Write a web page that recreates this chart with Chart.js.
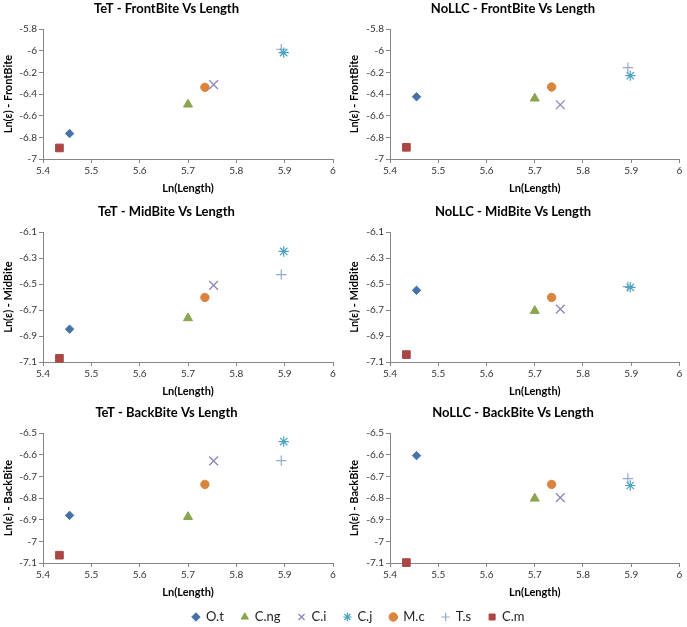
<!DOCTYPE html>
<html>
<head>
<meta charset="utf-8">
<script src="https://cdn.jsdelivr.net/npm/chart.js@4"></script>
<style>
  html, body { margin:0; padding:0; background:#fff; overflow:hidden; }
  #wrap { position:relative; width:687px; height:627px; background:#fff; overflow:hidden; }
  canvas { position:absolute; }
</style>
</head>
<body>
<div id="wrap">
  <canvas id="c1" width="343" height="200" style="left:0;top:0"></canvas>
  <canvas id="c2" width="344" height="200" style="left:343px;top:0"></canvas>
  <canvas id="c3" width="343" height="200" style="left:0;top:203px"></canvas>
  <canvas id="c4" width="344" height="200" style="left:343px;top:203px"></canvas>
  <canvas id="c5" width="343" height="200" style="left:0;top:404px"></canvas>
  <canvas id="c6" width="344" height="200" style="left:343px;top:404px"></canvas>
  <canvas id="cl" width="687" height="110" style="left:0;top:588px"></canvas>
</div>
<script>
// ---- data ----
const seriesNames = ['O.t', 'C.ng', 'C.i', 'C.j', 'M.c', 'T.s', 'C.m'];
const lengthX     = [5.455, 5.700, 5.753, 5.898, 5.735, 5.893, 5.434];

const tetFront   = [-6.765, -6.496, -6.313, -6.017, -6.338, -5.986, -6.898];
const nollcFront = [-6.425, -6.440, -6.499, -6.230, -6.335, -6.156, -6.892];
const tetMid     = [-6.847, -6.762, -6.510, -6.249, -6.603, -6.427, -7.072];
const nollcMid   = [-6.548, -6.706, -6.693, -6.525, -6.603, -6.520, -7.043];
const tetBack    = [-6.880, -6.887, -6.628, -6.539, -6.737, -6.627, -7.064];
const nollcBack  = [-6.604, -6.802, -6.798, -6.742, -6.737, -6.710, -7.098];

const xTicks      = [5.4, 5.5, 5.6, 5.7, 5.8, 5.9, 6];
const yTicksFront = [-7, -6.8, -6.6, -6.4, -6.2, -6, -5.8];
const yTicksMid   = [-7.1, -6.9, -6.7, -6.5, -6.3, -6.1];
const yTicksBack  = [-7.1, -7, -6.9, -6.8, -6.7, -6.6, -6.5];

const panelTitles = [
  'TeT - FrontBite Vs Length', 'NoLLC - FrontBite Vs Length',
  'TeT - MidBite Vs Length', 'NoLLC - MidBite Vs Length',
  'TeT - BackBite Vs Length', 'NoLLC - BackBite Vs Length'
];
const yTitles = ['Ln(\u03b5) - FrontBite', 'Ln(\u03b5) - MidBite', 'Ln(\u03b5) - BackBite'];
const xTitle = 'Ln(Length)';

// ---- styles ----
const markerStyles = [
  { pointStyle: 'rectRot',  color: '#4572A7', radius: 4.2, width: 1, fill: true },
  { pointStyle: 'triangle', color: '#89A54E', radius: 5.2, width: 1, fill: true },
  { pointStyle: 'crossRot', color: '#8F84BA', radius: 6.2, width: 1.3, fill: false },
  { pointStyle: 'star',     color: '#4AA3BF', radius: 5.2, width: 1.2, fill: false },
  { pointStyle: 'circle',   color: '#DB843D', radius: 4.2, width: 1, fill: true },
  { pointStyle: 'cross',    color: '#93A9CF', radius: 5.2, width: 1.2, fill: false },
  { pointStyle: 'rect',     color: '#AA4643', radius: 5.4, width: 1, fill: true }
];

const FONT = 'Lato, "Open Sans", sans-serif';
const AXIS_COLOR = '#868686';

function fmt(v) { return String(Number(v.toFixed(2))); }

function makeDatasets(yVals) {
  return seriesNames.map((name, i) => {
    const s = markerStyles[i];
    return {
      label: name,
      data: yVals ? [{ x: lengthX[i], y: yVals[i] }] : [],
      pointStyle: s.pointStyle,
      pointRadius: s.radius,
      pointBorderWidth: s.width,
      borderColor: s.color,
      borderWidth: s.width,
      backgroundColor: s.fill ? s.color : 'rgba(0,0,0,0)',
      pointBackgroundColor: s.fill ? s.color : 'rgba(0,0,0,0)',
      pointBorderColor: s.color,
      showLine: false,
      clip: false
    };
  });
}

function makeChart(id, title, yTitle, yVals, yTicks, isRight) {
  const ctx = document.getElementById(id);
  return new Chart(ctx, {
    type: 'scatter',
    data: { datasets: makeDatasets(yVals) },
    options: {
      responsive: false,
      animation: false,
      devicePixelRatio: 1,
      events: [],
      layout: { padding: { left: isRight ? 3 : 0, right: isRight ? 7 : 10, top: 0, bottom: 0 } },
      plugins: {
        legend: { display: false },
        tooltip: { enabled: false },
        title: {
          display: true, text: title, color: '#000',
          font: { family: FONT, size: 13, weight: 'bold' },
          padding: { top: 1.5, bottom: 12 }
        }
      },
      scales: {
        x: {
          type: 'linear', min: xTicks[0], max: xTicks[xTicks.length - 1],
          afterBuildTicks: s => { s.ticks = xTicks.map(v => ({ value: v })); },
          afterFit: s => { s.height = 41; },
          ticks: { callback: v => fmt(v), color: '#333', font: { family: FONT, size: 10 }, padding: 2, maxRotation: 0, autoSkip: false },
          grid: { drawOnChartArea: false, drawTicks: true, tickLength: 4, color: AXIS_COLOR },
          border: { display: true, color: AXIS_COLOR },
          title: { display: true, text: xTitle, color: '#000', font: { family: FONT, size: 11, weight: 'bold' }, padding: { top: 0, bottom: 5 } }
        },
        y: {
          type: 'linear', min: yTicks[0], max: yTicks[yTicks.length - 1],
          afterBuildTicks: s => { s.ticks = yTicks.map(v => ({ value: v })); },
          afterFit: s => { s.width = isRight ? 44 : 43; },
          ticks: { callback: v => fmt(v), color: '#333', font: { family: FONT, size: 10 }, padding: 2, autoSkip: false },
          grid: { drawOnChartArea: false, drawTicks: true, tickLength: 4, color: AXIS_COLOR },
          border: { display: true, color: AXIS_COLOR },
          title: { display: true, text: yTitle, color: '#000', font: { family: FONT, size: 11, weight: 'bold' }, padding: { top: 2, bottom: 0 } }
        }
      }
    }
  });
}

makeChart('c1', panelTitles[0], yTitles[0], tetFront,   yTicksFront, false);
makeChart('c2', panelTitles[1], yTitles[0], nollcFront, yTicksFront, true);
makeChart('c3', panelTitles[2], yTitles[1], tetMid,     yTicksMid,   false);
makeChart('c4', panelTitles[3], yTitles[1], nollcMid,   yTicksMid,   true);
makeChart('c5', panelTitles[4], yTitles[2], tetBack,    yTicksBack,  false);
makeChart('c6', panelTitles[5], yTitles[2], nollcBack,  yTicksBack,  true);

// legend-only chart
new Chart(document.getElementById('cl'), {
  type: 'scatter',
  data: { datasets: makeDatasets(null) },
  options: {
    responsive: false, animation: false, devicePixelRatio: 1, events: [],
    layout: { padding: { top: 5, bottom: 0, left: 30, right: 0 } },
    scales: { x: { display: false }, y: { display: false } },
    plugins: {
      tooltip: { enabled: false },
      title: { display: false },
      legend: {
        display: true, position: 'top', align: 'center',
        labels: {
          usePointStyle: true, boxWidth: 7, boxHeight: 6, padding: 17.5,
          color: '#222', font: { family: FONT, size: 13 }
        }
      }
    }
  }
});
</script>
</body>
</html>
